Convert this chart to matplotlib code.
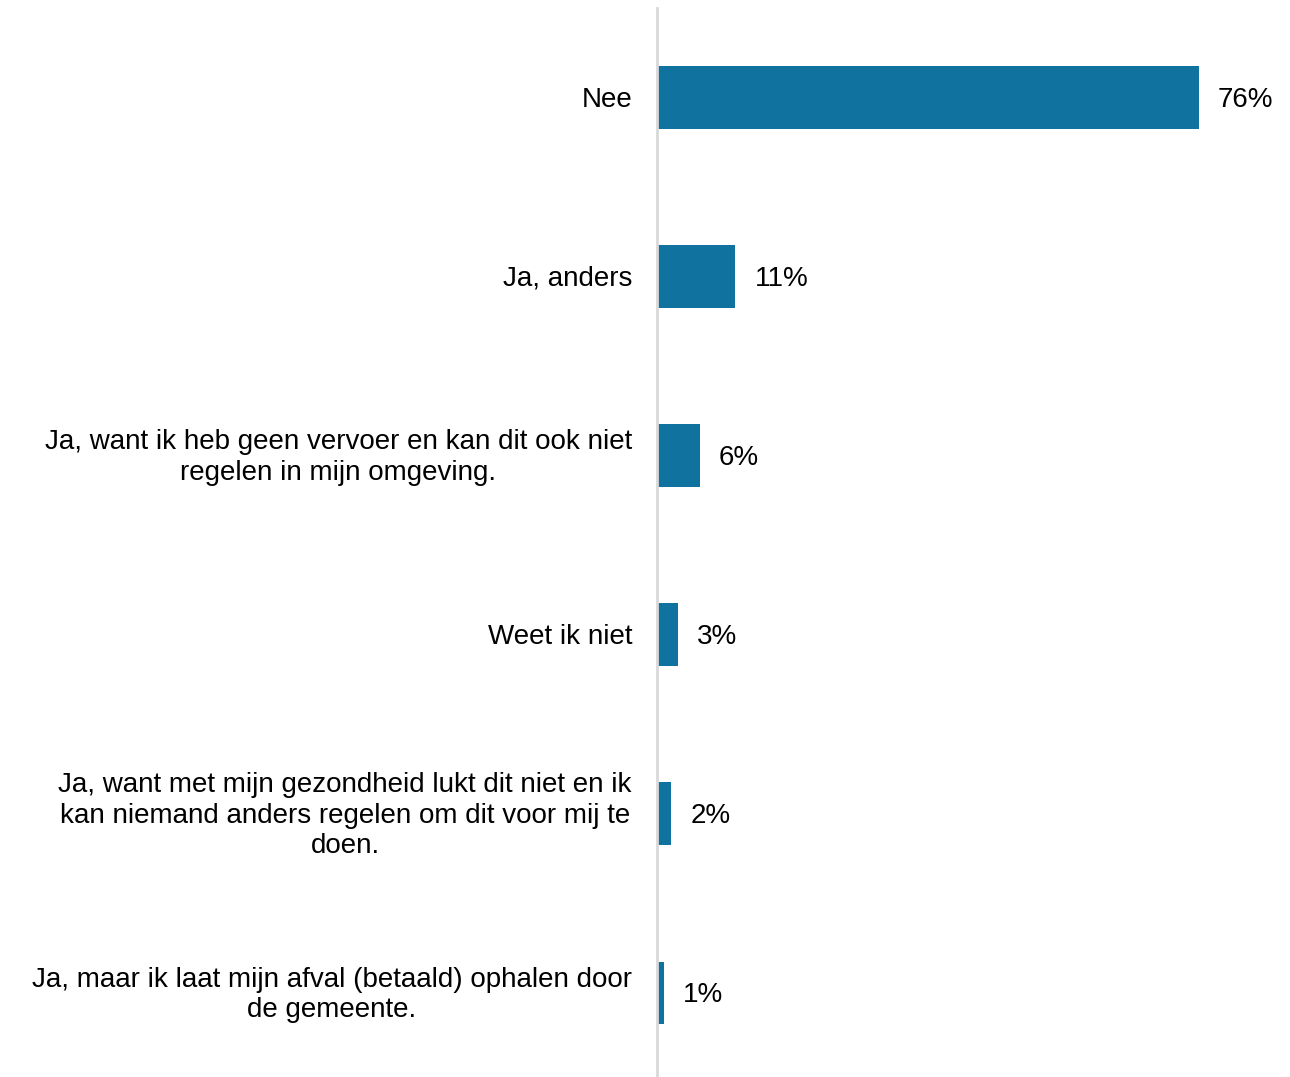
import matplotlib
matplotlib.use("Agg")
import matplotlib.pyplot as plt

categories = [
    "Nee",
    "Ja, anders",
    "Ja, want ik heb geen vervoer en kan dit ook niet\nregelen in mijn omgeving.",
    "Weet ik niet",
    "Ja, want met mijn gezondheid lukt dit niet en ik\nkan niemand anders regelen om dit voor mij te\ndoen.",
    "Ja, maar ik laat mijn afval (betaald) ophalen door\nde gemeente.",
]
values = [76, 11, 6, 3, 2, 1]
value_labels = ["76%", "11%", "6%", "3%", "2%", "1%"]

plt.rcParams["font.family"] = ["Liberation Sans", "DejaVu Sans"]

fig = plt.figure(figsize=(12.9, 10.77), dpi=100)
ax = fig.add_axes([657 / 1290, 0, 1 - 657 / 1290, 1 - 8 / 1077])

color = "#10729e"
y = list(range(len(values)))
ax.barh(y, values, height=0.35, color=color, zorder=2)

ax.set_xlim(0, (1290 - 657) / 7.13)
ax.set_ylim(5.47, -0.5)

fs = 20
for yi, v, lab in zip(y, values, value_labels):
    ax.annotate(lab, (v, yi), xytext=(19, -2), textcoords="offset pixels",
                va="center", ha="left", fontsize=fs, color="black")

for yi, cat in zip(y, categories):
    ax.annotate(cat, (0, yi), xytext=(-25, -2), textcoords="offset pixels",
                va="center", ha="right", fontsize=fs, color="black",
                multialignment="center", linespacing=1.22,
                annotation_clip=False)

for s in ["top", "right", "bottom"]:
    ax.spines[s].set_visible(False)
ax.spines["left"].set_color("#d9d9d9")
ax.spines["left"].set_linewidth(2)
ax.set_xticks([])
ax.set_yticks([])

fig.savefig("out.png", dpi=100)
